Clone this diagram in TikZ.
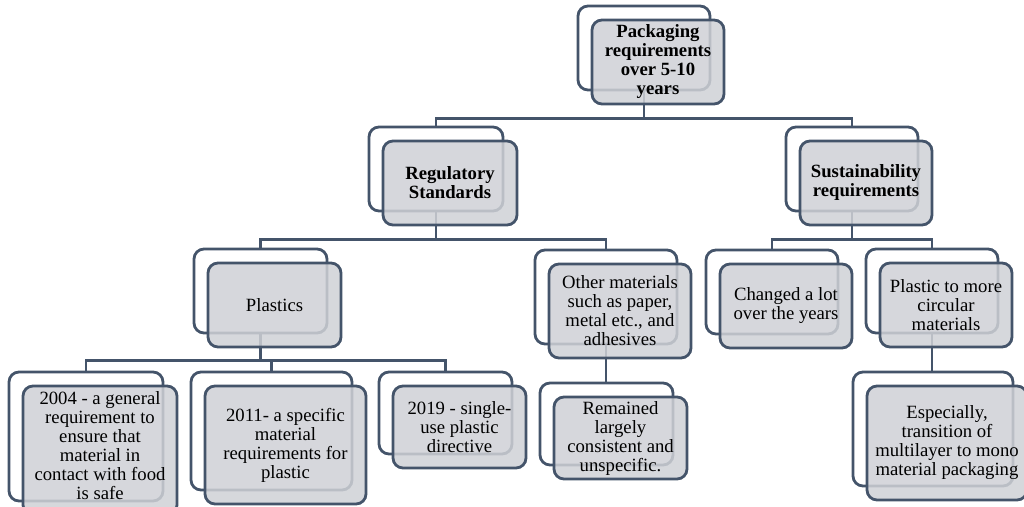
\documentclass[tikz,border=0pt]{standalone}
\usepackage{fontspec}
\setmainfont{Liberation Serif}
\usetikzlibrary{calc}
\definecolor{edge}{RGB}{68,84,106}
\definecolor{panel}{RGB}{207,209,214}
\pgfdeclarelayer{background}
\pgfsetlayers{background,main}
\tikzset{
  backframe/.style={draw=edge, line width=2.8pt, rounded corners=10pt, fill=white, inner sep=0pt},
  frontbox/.style={draw=edge, line width=2.8pt, rounded corners=10pt, fill=panel,
    fill opacity=0.85, text opacity=1, inner sep=0pt, align=center,
    font=\fontsize{18.7}{19}\selectfont},
  conn/.style={draw=edge, line width=2.6pt},
}
% a white frame with a grey panel set 14pt down and right of it
\newcommand\pairbox[6]{%
  \node[backframe, minimum width=#4pt, minimum height=#5pt] (#1) at (#2,#3) {};
  \node[frontbox, minimum width=#4pt, minimum height=#5pt] (#1-f) at ($(#1)+(14,14)$) {#6};
}
\begin{document}
\begin{tikzpicture}[x=1pt,y=-1pt]
\useasboundingbox (0,0) rectangle (1024,506);
\clip (0,0) rectangle (1024,506);

% level 1
\pairbox{top}{644}{48}{132}{84}{\textbf{Packaging}\\\textbf{requirements}\\\textbf{over 5-10}\\\textbf{years}}
% level 2
\pairbox{reg}{436}{169}{134}{84}{\textbf{Regulatory}\\\textbf{Standards}}
\pairbox{sus}{852}{169}{132}{84}{\textbf{Sustainability}\\\textbf{requirements}}
% level 3
\pairbox{pla}{260.5}{291}{133}{84}{Plastics}
\pairbox{oth}{606}{297}{142}{94}{Other materials\\such as paper,\\metal etc., and\\adhesives}
\pairbox{chg}{772}{292}{132}{84}{Changed a lot\\over the years}
\pairbox{pcm}{932}{291}{132}{84}{Plastic to more\\circular\\materials}
% level 4 (the first panel runs past the lower edge, so its text sits a little higher)
\pairbox{y04}{86}{436.5}{154}{129}{\fontsize{18.7}{18}\selectfont 2004 - a general\\requirement to\\ensure that\\material in\\contact with food\\is safe\rule[-9pt]{0pt}{0pt}}
\pairbox{y11}{271.5}{431}{161}{118}{2011- a specific\\material\\requirements for\\plastic}
\pairbox{y19}{445.5}{413}{133}{82}{2019 - single-\\use plastic\\directive}
\pairbox{rem}{606.5}{424}{133}{82}{Remained\\largely\\consistent and\\unspecific.}
\pairbox{esp}{933}{429}{160}{114}{Especially,\\transition of\\multilayer to mono\\material packaging}

% connectors run underneath the panels
\begin{pgfonlayer}{background}
  \draw[conn] (top.south) -- ++(0,27) -| (reg.north);
  \draw[conn] (top.south) -- ++(0,27) -| (sus.north);
  \draw[conn] (reg.south) -- ++(0,27) -| (pla.north);
  \draw[conn] (reg.south) -- ++(0,27) -| (oth.north);
  \draw[conn] (sus.south) -- ++(0,27) -| (chg.north);
  \draw[conn] (sus.south) -- ++(0,27) -| (pcm.north);
  \draw[conn] (pla.south) -- ++(0,26) -| (y04.north);
  \draw[conn] (pla.south) -- ++(0,26) -| (y11.north);
  \draw[conn] (pla.south) -- ++(0,26) -| (y19.north);
  \draw[conn] (oth.south) -- (oth.south |- rem.north);
  \draw[conn] (pcm.south) -- (pcm.south |- esp.north);
\end{pgfonlayer}
\end{tikzpicture}
\end{document}
